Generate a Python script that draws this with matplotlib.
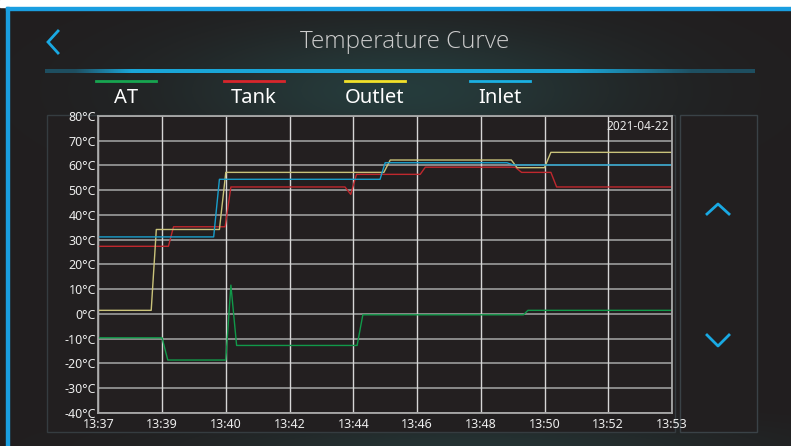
import numpy as np
import matplotlib
matplotlib.use("Agg")
import matplotlib.pyplot as plt
from matplotlib.patches import Rectangle

plt.rcParams['font.family'] = ['Noto Sans', 'DejaVu Sans']

# time axis: evenly spaced slots, labelled with the sample clock
time_labels = ['13:37', '13:39', '13:40', '13:42', '13:44', '13:46',
               '13:48', '13:50', '13:52', '13:53']
temp_ticks = [-40, -30, -20, -10, 0, 10, 20, 30, 40, 50, 60, 70, 80]

at_x = [0, 1.0, 1.09, 2.0, 2.08, 2.17, 4.06, 4.15, 6.67, 6.74, 9]
at_y = [-9.7, -9.7, -18.7, -18.7, 11.6, -12.8, -12.8, -0.4, -0.4, 1.4, 1.4]

tank_x = [0, 1.10, 1.18, 1.99, 2.08, 3.87, 3.96, 4.05, 5.05, 5.13,
          6.54, 6.64, 7.10, 7.19, 9]
tank_y = [27.3, 27.3, 35.2, 35.2, 51.3, 51.3, 48.3, 56.4, 56.4, 59.3,
          59.3, 57.2, 57.2, 51.3, 51.3]

outlet_x = [0, 0.83, 0.91, 1.90, 2.0, 4.48, 4.58, 6.48, 6.57, 7.0, 7.10, 9]
outlet_y = [1.4, 1.4, 34.1, 34.1, 57.2, 57.2, 62.2, 62.2, 59.1, 59.1, 65.3, 65.3]

inlet_x = [0, 1.81, 1.90, 4.42, 4.50, 6.41, 6.51, 9]
inlet_y = [31.1, 31.1, 54.4, 54.4, 61.1, 61.1, 60.2, 60.2]

series_names = ['AT', 'Tank', 'Outlet', 'Inlet']
legend_colors = ['#17a550', '#d8262c', '#f2e12a', '#1bb0e2']
line_colors = ['#11994a', '#c0282e', '#c9c27a', '#1a9ecb']

W, H = 791, 446
fig = plt.figure(figsize=(W / 100, H / 100), dpi=100)

# ---- screen background (pixel coordinates) ----
bg = fig.add_axes([0, 0, 1, 1])
bg.set_xlim(0, W)
bg.set_ylim(H, 0)
bg.axis('off')

yy, xx = np.mgrid[0:H, 0:W]
base = np.array([33, 30, 31]) / 255.0
glow = np.exp(-(((xx - 400) / 220.0) ** 2 + ((yy - 90) / 65.0) ** 2))
glow2 = np.exp(-(((xx - 470) / 260.0) ** 2 + ((yy - 446) / 25.0) ** 2))
teal = np.array([40, 72, 72]) / 255.0
img = base[None, None, :] + (teal - base)[None, None, :] * (0.7 * glow + 0.5 * glow2)[:, :, None]
bg.imshow(np.clip(img, 0, 1), extent=[0, W, H, 0], aspect='auto', zorder=0)

# top white band, cyan frame edges
bg.add_patch(Rectangle((0, 0), W, 7, color='white', zorder=1))
bg.add_patch(Rectangle((6, 7), W - 6, 2.5, color='#1a9ee0', zorder=1))
bg.add_patch(Rectangle((6, 7), 3, H - 7, color='#1a9ee0', zorder=1))

# back chevron
bg.plot([58, 48, 58], [31, 42, 53], color='#19a9e3', lw=2, solid_joinstyle='miter', zorder=2)

# title
bg.text(405, 42, 'Temperature Curve', color='#cccccc', fontsize=17.5,
        fontweight='light', family=['Open Sans', 'DejaVu Sans'],
        ha='center', va='center', zorder=2)

# separator bar with a soft fade at both ends
t = np.linspace(0, 1, 400)
strip_alpha = np.clip(np.minimum(t / 0.12, (1 - t) / 0.25), 0.35, 1.0)
strip = np.zeros((1, 400, 4))
strip[0, :, :3] = np.array([26, 166, 216]) / 255.0
strip[0, :, 3] = strip_alpha
bg.imshow(strip, extent=[45, 755, 73, 69], aspect='auto', zorder=2)

# legend row
legend_x = [126, 254, 375, 500]
for name, col, cx in zip(series_names, legend_colors, legend_x):
    bg.plot([cx - 30, cx + 30], [81, 81], color=col, lw=2, zorder=2)
    bg.text(cx, 98, name, color='white', fontsize=14.5, ha='center', va='center', zorder=2)

# chart frame and arrow panel
bg.add_patch(Rectangle((47, 115), 628, 317, facecolor='#221f20', edgecolor='#353c40', lw=1, zorder=1))
bg.add_patch(Rectangle((680, 115), 77, 317, facecolor='#221f20', edgecolor='#3a4247', lw=1, zorder=1))
bg.plot([707, 718, 729], [214, 204, 214], color='#19a9e3', lw=2, zorder=2)
bg.plot([707, 718, 729], [335, 346, 335], color='#19a9e3', lw=2, zorder=2)

# ---- temperature chart ----
ax = fig.add_axes([98.3 / W, 1 - 412.7 / H, (672 - 98.3) / W, (412.7 - 116) / H])
ax.set_facecolor('#231f20')

ax.plot(at_x, at_y, color=line_colors[0], lw=1.0)
ax.plot(tank_x, tank_y, color=line_colors[1], lw=1.0)
ax.plot(outlet_x, outlet_y, color=line_colors[2], lw=1.0)
ax.plot(inlet_x, inlet_y, color=line_colors[3], lw=1.0)

ax.set_xlim(0, len(time_labels) - 1)
ax.set_ylim(-40, 80)
ax.set_xticks(range(len(time_labels)))
ax.set_xticklabels(time_labels)
ax.set_yticks(temp_ticks)
ax.set_yticklabels([f'{v}°C' for v in temp_ticks])
ax.tick_params(length=0, colors='#ececec', labelsize=9, pad=1.5)
ax.tick_params(axis='x', pad=4)

for v in temp_ticks:
    ax.axhline(v, color='#9c9c9c', lw=1.2, zorder=0)
for i in range(len(time_labels)):
    ax.axvline(i, color='#d6d6d6', lw=1.0, zorder=0)
for s in ax.spines.values():
    s.set_color('#a8a8a8')
    s.set_linewidth(1.3)

ax.text(0.995, 0.985, '2021-04-22', transform=ax.transAxes, color='#e6e6e6',
        fontsize=8.5, ha='right', va='top')

fig.savefig('out.png', dpi=100, facecolor='#221f20')
